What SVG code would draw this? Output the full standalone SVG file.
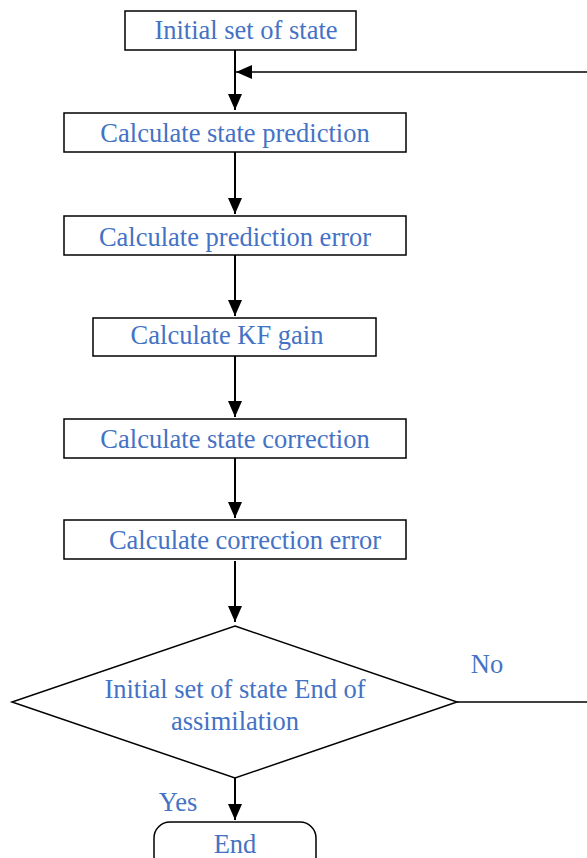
<svg xmlns="http://www.w3.org/2000/svg" width="587" height="858" viewBox="0 0 587 858">
  <style>
    .box { fill: #ffffff; stroke: #000000; stroke-width: 1.5; }
    .lbl { font-family: 'Liberation Serif', 'Times New Roman', serif; font-size: 26.5px; fill: #4472c4; text-anchor: middle; }
    .edge { stroke: #000000; stroke-width: 2; fill: none; }
    .line { stroke: #000000; stroke-width: 1.5; fill: none; }
  </style>
  <defs>
    <marker id="arrowBig" viewBox="0 0 16 14" refX="16" refY="7" markerWidth="16" markerHeight="14" markerUnits="userSpaceOnUse" orient="auto">
      <path d="M0,0 L16,7 L0,14 Z" fill="#000000"/>
    </marker>
  </defs>

  <rect width="587" height="858" fill="#ffffff"/>

  <g id="connectors">
    <path class="edge" d="M235,50 V110" marker-end="url(#arrowBig)"/>
    <path class="line" d="M587,72 H236" marker-end="url(#arrowBig)"/>
    <path class="edge" d="M235,152 V214" marker-end="url(#arrowBig)"/>
    <path class="edge" d="M235,255 V316" marker-end="url(#arrowBig)"/>
    <path class="edge" d="M235,356 V417" marker-end="url(#arrowBig)"/>
    <path class="edge" d="M235,458 V518" marker-end="url(#arrowBig)"/>
    <path class="edge" d="M235,561 V622" marker-end="url(#arrowBig)"/>
    <path class="line" d="M457,702 H587"/>
    <path class="edge" d="M235,778 V820" marker-end="url(#arrowBig)"/>
    <text class="lbl" x="487" y="673">No</text>
    <text class="lbl" x="178" y="811">Yes</text>
  </g>

  <g id="init">
    <rect class="box" x="125" y="11" width="231" height="39"/>
    <text class="lbl" x="246" y="39">Initial set of state</text>
  </g>
  <g id="prediction">
    <rect class="box" x="64" y="113" width="342" height="39"/>
    <text class="lbl" x="235" y="142">Calculate state prediction</text>
  </g>
  <g id="prediction-error">
    <rect class="box" x="64" y="216" width="342" height="39"/>
    <text class="lbl" x="235" y="246">Calculate prediction error</text>
  </g>
  <g id="kf-gain">
    <rect class="box" x="93" y="318" width="283" height="38"/>
    <text class="lbl" x="227" y="344">Calculate KF gain</text>
  </g>
  <g id="correction">
    <rect class="box" x="64" y="419" width="342" height="39"/>
    <text class="lbl" x="235" y="448">Calculate state correction</text>
  </g>
  <g id="correction-error">
    <rect class="box" x="64" y="520" width="342" height="39"/>
    <text class="lbl" x="245" y="549">Calculate correction error</text>
  </g>
  <g id="decision">
    <polygon class="box" points="235,626 457,702 235,778 12,702"/>
    <text class="lbl" x="235" y="698">Initial set of state End of</text>
    <text class="lbl" x="235" y="730">assimilation</text>
  </g>
  <g id="end">
    <rect class="box" x="154" y="822" width="162" height="50" rx="16" ry="16"/>
    <text class="lbl" x="235" y="853">End</text>
  </g>
</svg>
